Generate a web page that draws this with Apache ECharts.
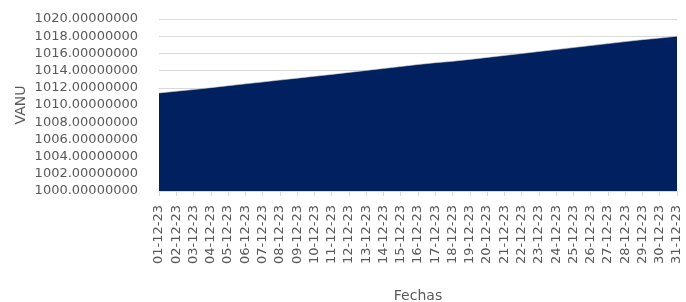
<!DOCTYPE html>
<html>
<head>
<meta charset="utf-8">
<script src="https://cdn.jsdelivr.net/npm/echarts@6/dist/echarts.min.js"></script>
<style>
  html, body { margin: 0; padding: 0; background: #fff; }
  #chart { width: 686px; height: 302px; }
</style>
</head>
<body>
<div id="chart"></div>
<script>
// fechas de diciembre 2023
const fechas = [
  '01-12-23', '02-12-23', '03-12-23', '04-12-23', '05-12-23', '06-12-23', '07-12-23',
  '08-12-23', '09-12-23', '10-12-23', '11-12-23', '12-12-23', '13-12-23', '14-12-23',
  '15-12-23', '16-12-23', '17-12-23', '18-12-23', '19-12-23', '20-12-23', '21-12-23',
  '22-12-23', '23-12-23', '24-12-23', '25-12-23', '26-12-23', '27-12-23', '28-12-23',
  '29-12-23', '30-12-23', '31-12-23'
]

// valor cuota (VANU) estimado del gráfico
const vanu = [
  1011.40, 1011.60, 1011.80, 1012.02, 1012.24, 1012.46, 1012.68,
  1012.90, 1013.12, 1013.34, 1013.56, 1013.79, 1014.02, 1014.25,
  1014.48, 1014.71, 1014.92, 1015.08, 1015.30, 1015.53, 1015.76,
  1015.99, 1016.22, 1016.45, 1016.68, 1016.91, 1017.14, 1017.37,
  1017.60, 1017.78, 1018.00
]

const yMin = 1000
const yMax = 1020
const yStep = 2

const chart = echarts.init(document.getElementById('chart'))

const option = {
  animation: false,
  textStyle: { fontFamily: 'DejaVu Sans' },
  grid: {
    left: 159,
    right: 9,
    top: 19,
    bottom: 111,
    containLabel: false,
    outerBoundsMode: 'none',
  },
  xAxis: {
    type: 'category',
    data: fechas,
    boundaryGap: false,
    name: 'Fechas',
    nameLocation: 'middle',
    nameGap: 98,
    nameMoveOverlap: false,
    nameTextStyle: { color: '#595959', fontSize: 14 },
    axisLine: { lineStyle: { color: '#d9d9d9' } },
    axisTick: { show: true, length: 5, lineStyle: { color: '#d9d9d9' } },
    axisLabel: {
      rotate: 90,
      interval: 0,
      margin: 14,
      color: '#595959',
      fontSize: 13,
    },
    splitLine: { show: false },
  },
  yAxis: {
    type: 'value',
    min: yMin,
    max: yMax,
    interval: yStep,
    name: 'VANU',
    nameLocation: 'middle',
    nameRotate: 90,
    nameGap: 131,
    nameMoveOverlap: false,
    nameTextStyle: { color: '#595959', fontSize: 14 },
    axisLine: { show: false },
    axisTick: { show: false },
    axisLabel: {
      margin: 21,
      color: '#595959',
      fontSize: 13,
      formatter: (v) => v.toFixed(8),
    },
    splitLine: { lineStyle: { color: '#d9d9d9' } },
  },
  series: [
    {
      name: 'VANU',
      type: 'line',
      data: vanu,
      symbol: 'none',
      lineStyle: { color: '#d0d0d0', width: 0.6 },
      areaStyle: { color: '#002060', opacity: 1, origin: 'start' },
      z: 3,
    },
  ],
}

chart.setOption(option)
</script>
</body>
</html>
